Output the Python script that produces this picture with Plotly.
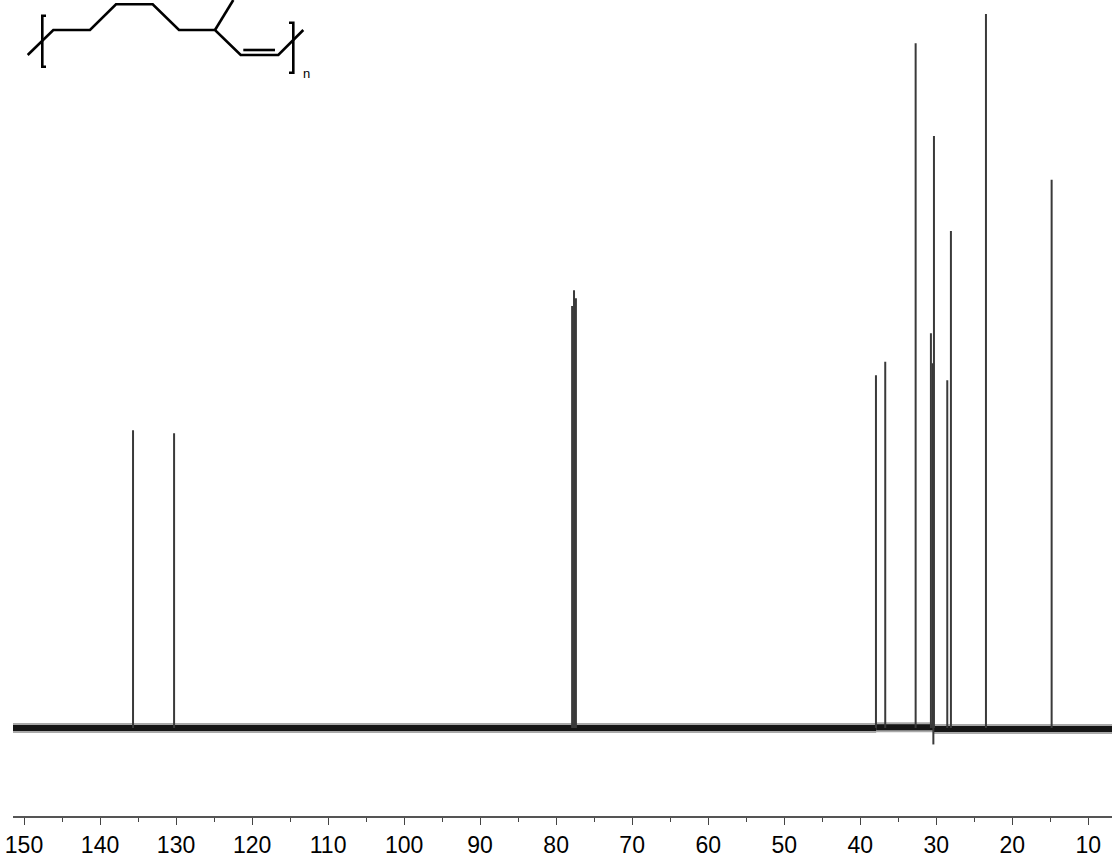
import plotly.graph_objects as go

# 13C NMR peaks (ppm) and heights (tallest = 100)
peak_ppm = [135.66, 130.26, 77.90, 77.65, 77.40, 37.93, 36.71, 32.71,
            30.70, 30.47, 30.30, 28.55, 28.07, 23.46, 14.82]
peak_height = [41.7, 41.3, 59.1, 61.3, 60.2, 49.4, 51.3, 95.9,
               55.3, 51.1, 82.9, 48.7, 69.6, 100.0, 76.8]

# small negative glitch right of the 30.3 ppm line
dip_ppm = [30.38]
dip_depth = [-2.3]

# baseline level per region (start ppm, end ppm, level)
base_start = [151.45, 37.9, 30.4]
base_end = [37.9, 30.4, 6.88]
base_level = [0.0, 0.1, -0.15]

xticks = [150, 140, 130, 120, 110, 100, 90, 80, 70, 60, 50, 40, 30, 20, 10]

# skeletal formula, drawn in pixel space (x right, y down)
bond_x = [27.7, 53.3, 90, 116, 152.7, 179, 215, 240.7, 278.3, 303.3, None,
          215, 233.3, None, 243.3, 275, None,
          46, 42.3, 42.3, 46, None, 289, 293.3, 293.3, 289]
bond_y = [55, 30, 30, 4.3, 4.3, 30, 30, 55, 55, 30, None,
          30, 0, None, 50, 50, None,
          15.7, 15.7, 66.7, 66.7, None, 22.7, 22.7, 72.7, 72.7]

fig = go.Figure()

# baseline (noise band)
for s, e, lv in zip(base_start, base_end, base_level):
    fig.add_trace(go.Scatter(x=[s, e], y=[lv, lv], mode="lines",
                             line=dict(color="#555555", width=10), opacity=0.5,
                             hoverinfo="skip", showlegend=False))
    fig.add_trace(go.Scatter(x=[s, e], y=[lv, lv], mode="lines",
                             line=dict(color="#151515", width=6),
                             hoverinfo="skip", showlegend=False))

px, py = [], []
for p, h in zip(peak_ppm, peak_height):
    px += [p, p, None]
    py += [0, h, None]
for p, h in zip(dip_ppm, dip_depth):
    px += [p, p, None]
    py += [0, h, None]
fig.add_trace(go.Scatter(x=px, y=py, mode="lines",
                         line=dict(color="#3a3a3a", width=2),
                         hoverinfo="skip", showlegend=False))

fig.add_trace(go.Scatter(x=bond_x, y=bond_y, mode="lines", xaxis="x2", yaxis="y2",
                         line=dict(color="black", width=2.6),
                         hoverinfo="skip", showlegend=False))

fig.update_layout(
    width=1112, height=863,
    margin=dict(l=13, r=0, t=0, b=47),
    paper_bgcolor="white", plot_bgcolor="white",
    showlegend=False,
    font=dict(family="Liberation Sans, sans-serif", color="black"),
    xaxis=dict(range=[151.45, 6.88], tickvals=xticks, ticks="outside",
               ticklen=7, tickwidth=1.2, tickcolor="#444444",
               showline=True, linecolor="#555555", linewidth=1.5,
               showgrid=False, zeroline=False, ticklabelstandoff=1,
               automargin=False,
               tickfont=dict(size=23, color="black"),
               minor=dict(dtick=5, tick0=5, ticks="outside", ticklen=4,
                          tickcolor="#444444", tickwidth=1.2, showgrid=False)),
    yaxis=dict(range=[-12.32, 101.96], visible=False, showgrid=False,
               zeroline=False, automargin=False),
    xaxis2=dict(range=[13, 1112], overlaying="x", visible=False, anchor="y2"),
    yaxis2=dict(range=[816, 0], overlaying="y", visible=False, anchor="x2"),
    annotations=[dict(x=306, y=73, xref="x2", yref="y2", text="n", showarrow=False,
                      font=dict(size=13, family="Liberation Sans, sans-serif", color="black"),
                      xanchor="center", yanchor="middle")],
)

fig.write_html("out.html", config={"displayModeBar": False},
               post_script="document.body.style.margin='0';document.body.style.overflow='hidden';")
